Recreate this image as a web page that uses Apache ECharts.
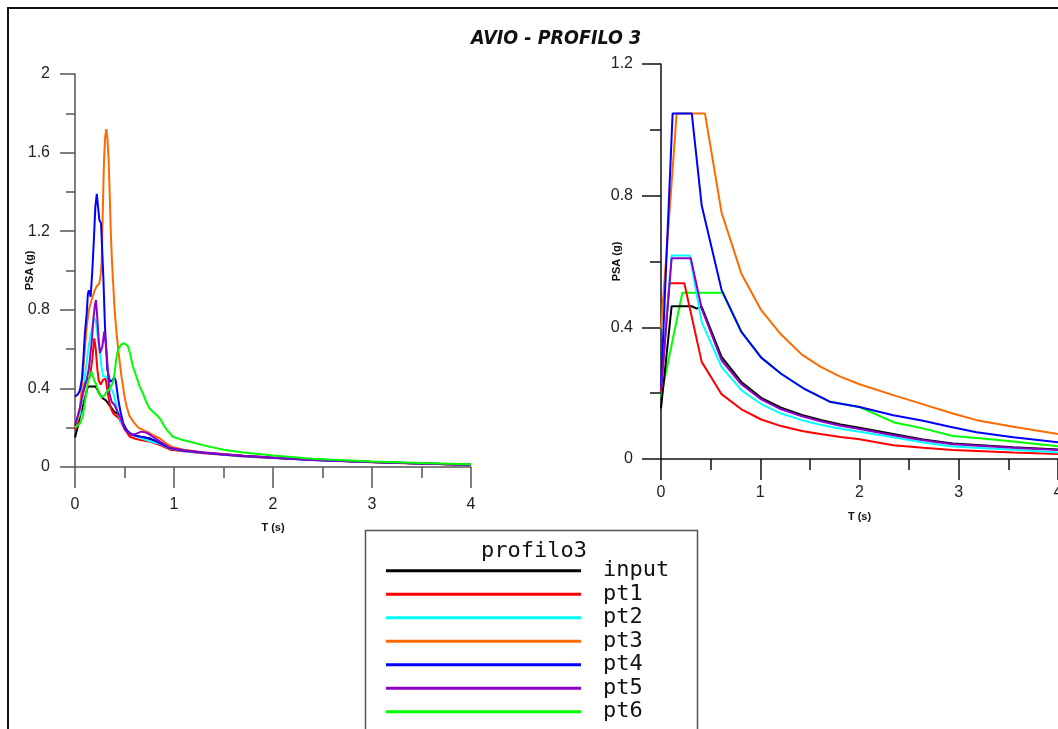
<!DOCTYPE html>
<html>
<head>
<meta charset="utf-8">
<title>AVIO - PROFILO 3</title>
<script src="https://cdn.jsdelivr.net/npm/echarts@6/dist/echarts.min.js"></script>
<style>
	html, body { margin: 0; padding: 0; background: #fff; }
	#container { width: 1058px; height: 729px; }
</style>
</head>
<body>
<div id="container"></div>
<script>
// nombres y colores de las curvas
var nombres = ['input', 'pt1', 'pt2', 'pt3', 'pt4', 'pt5', 'pt6'];
var colores = ['#000000', '#ff0000', '#00ffff', '#ff6a00', '#0000ff', '#8c00c8', '#00ff00'];

var ticksT = [0, 1, 2, 3, 4];
var ticksPsaIzq = [0, 0.4, 0.8, 1.2, 1.6, 2];
var ticksPsaDer = [0, 0.4, 0.8, 1.2];

// grafico izquierdo: espectros registrados [T, PSA]
var inputIzq = [[0, 0.15], [0.015, 0.16], [0.03, 0.21], [0.05, 0.26], [0.07, 0.29], [0.09, 0.33], [0.11, 0.37], [0.13, 0.41], [0.15, 0.4], [0.17, 0.41], [0.19, 0.42], [0.21, 0.41], [0.23, 0.4], [0.25, 0.37], [0.28, 0.35], [0.31, 0.34], [0.34, 0.32], [0.37, 0.3], [0.4, 0.28], [0.43, 0.27], [0.47, 0.24], [0.5, 0.2], [0.55, 0.17], [0.6, 0.16], [0.65, 0.155], [0.7, 0.15], [0.8, 0.135], [0.9, 0.11], [1.0, 0.09], [1.2, 0.077], [1.5, 0.064], [1.7, 0.056], [2.0, 0.047], [2.4, 0.037], [3.0, 0.025], [3.5, 0.018], [4.0, 0.012]];
var pt1Izq = [[0, 0.19], [0.02, 0.21], [0.05, 0.29], [0.08, 0.37], [0.1, 0.41], [0.118, 0.44], [0.135, 0.45], [0.152, 0.46], [0.175, 0.55], [0.195, 0.655], [0.21, 0.6], [0.225, 0.5], [0.24, 0.44], [0.26, 0.42], [0.285, 0.445], [0.31, 0.45], [0.33, 0.38], [0.35, 0.32], [0.37, 0.29], [0.39, 0.27], [0.44, 0.25], [0.49, 0.205], [0.55, 0.155], [0.6, 0.145], [0.66, 0.137], [0.76, 0.128], [0.86, 0.112], [0.96, 0.088], [1.1, 0.08], [1.3, 0.07], [1.5, 0.062], [1.7, 0.054], [2.0, 0.046], [2.4, 0.036], [3.0, 0.024], [3.5, 0.017], [4.0, 0.011]];
var pt2Izq = [[0, 0.21], [0.02, 0.22], [0.05, 0.27], [0.08, 0.38], [0.11, 0.5], [0.14, 0.62], [0.17, 0.7], [0.195, 0.76], [0.212, 0.74], [0.23, 0.66], [0.253, 0.58], [0.27, 0.5], [0.286, 0.46], [0.3, 0.47], [0.32, 0.46], [0.354, 0.41], [0.387, 0.375], [0.41, 0.33], [0.44, 0.265], [0.47, 0.225], [0.505, 0.197], [0.55, 0.175], [0.59, 0.163], [0.65, 0.15], [0.72, 0.137], [0.8, 0.125], [0.86, 0.118], [0.96, 0.094], [1.1, 0.082], [1.3, 0.072], [1.5, 0.063], [1.7, 0.055], [2.0, 0.047], [2.4, 0.036], [3.0, 0.025], [3.5, 0.018], [4.0, 0.012]];
var pt3Izq = [[0, 0.2], [0.02, 0.21], [0.05, 0.3], [0.08, 0.48], [0.1, 0.6], [0.118, 0.71], [0.14, 0.8], [0.168, 0.85], [0.2, 0.9], [0.22, 0.92], [0.246, 0.935], [0.26, 0.98], [0.27, 1.05], [0.283, 1.35], [0.293, 1.56], [0.305, 1.68], [0.316, 1.72], [0.328, 1.67], [0.34, 1.56], [0.35, 1.4], [0.36, 1.22], [0.373, 1.05], [0.387, 0.92], [0.4, 0.8], [0.42, 0.68], [0.445, 0.56], [0.47, 0.46], [0.5, 0.36], [0.52, 0.31], [0.55, 0.26], [0.59, 0.23], [0.64, 0.2], [0.69, 0.188], [0.74, 0.176], [0.8, 0.16], [0.86, 0.145], [0.92, 0.12], [0.99, 0.1], [1.1, 0.088], [1.3, 0.074], [1.5, 0.066], [1.7, 0.057], [2.0, 0.048], [2.4, 0.037], [3.0, 0.025], [3.5, 0.018], [4.0, 0.012]];
var pt4Izq = [[0, 0.358], [0.03, 0.37], [0.05, 0.392], [0.07, 0.45], [0.084, 0.545], [0.1, 0.68], [0.118, 0.78], [0.13, 0.88], [0.14, 0.9], [0.158, 0.867], [0.175, 1.0], [0.19, 1.15], [0.205, 1.32], [0.22, 1.39], [0.232, 1.38], [0.246, 1.257], [0.263, 1.24], [0.275, 1.1], [0.286, 0.969], [0.303, 0.714], [0.315, 0.6], [0.327, 0.494], [0.354, 0.434], [0.375, 0.44], [0.395, 0.455], [0.41, 0.443], [0.438, 0.341], [0.46, 0.28], [0.488, 0.222], [0.52, 0.19], [0.556, 0.171], [0.6, 0.162], [0.657, 0.154], [0.758, 0.146], [0.86, 0.12], [0.96, 0.095], [1.1, 0.083], [1.3, 0.073], [1.5, 0.064], [1.7, 0.056], [2.0, 0.047], [2.4, 0.036], [3.0, 0.025], [3.5, 0.018], [4.0, 0.012]];
var pt5Izq = [[0, 0.21], [0.02, 0.22], [0.05, 0.3], [0.08, 0.38], [0.1, 0.42], [0.118, 0.443], [0.14, 0.5], [0.168, 0.63], [0.185, 0.75], [0.2, 0.82], [0.212, 0.85], [0.225, 0.76], [0.24, 0.64], [0.253, 0.58], [0.276, 0.612], [0.296, 0.69], [0.308, 0.64], [0.32, 0.578], [0.335, 0.47], [0.347, 0.375], [0.37, 0.332], [0.4, 0.315], [0.43, 0.28], [0.455, 0.256], [0.48, 0.22], [0.505, 0.188], [0.57, 0.163], [0.62, 0.17], [0.67, 0.18], [0.72, 0.175], [0.76, 0.163], [0.86, 0.129], [0.96, 0.098], [1.1, 0.085], [1.3, 0.074], [1.5, 0.065], [1.7, 0.057], [2.0, 0.048], [2.4, 0.037], [3.0, 0.025], [3.5, 0.018], [4.0, 0.012]];
var pt6Izq = [[0, 0.2], [0.02, 0.2], [0.05, 0.222], [0.08, 0.26], [0.1, 0.33], [0.13, 0.43], [0.15, 0.46], [0.168, 0.485], [0.18, 0.48], [0.195, 0.44], [0.215, 0.42], [0.236, 0.38], [0.266, 0.355], [0.28, 0.35], [0.3, 0.365], [0.316, 0.38], [0.35, 0.4], [0.384, 0.43], [0.4, 0.48], [0.417, 0.55], [0.435, 0.6], [0.47, 0.625], [0.5, 0.63], [0.535, 0.615], [0.556, 0.578], [0.586, 0.51], [0.62, 0.46], [0.653, 0.41], [0.69, 0.37], [0.72, 0.33], [0.75, 0.3], [0.79, 0.28], [0.83, 0.262], [0.86, 0.245], [0.9, 0.21], [0.93, 0.188], [0.99, 0.154], [1.09, 0.137], [1.3, 0.11], [1.5, 0.088], [1.7, 0.074], [2.0, 0.058], [2.4, 0.042], [3.0, 0.028], [3.5, 0.02], [4.0, 0.014]];

// grafico derecho: espectros de diseño [T, PSA]
var inputDer = [[0, 0.154], [0.107, 0.464], [0.31, 0.464], [0.36, 0.457], [0.41, 0.462], [0.61, 0.31], [0.81, 0.234], [1.01, 0.186], [1.21, 0.156], [1.42, 0.134], [1.62, 0.118], [1.81, 0.105], [2.0, 0.095], [2.34, 0.076], [2.64, 0.059], [2.94, 0.047], [3.55, 0.036], [4.0, 0.029]];
var pt1Der = [[0, 0.204], [0.084, 0.534], [0.235, 0.534], [0.41, 0.295], [0.61, 0.197], [0.81, 0.151], [1.01, 0.12], [1.21, 0.1], [1.42, 0.085], [1.62, 0.075], [1.81, 0.067], [2.0, 0.06], [2.34, 0.042], [2.64, 0.034], [2.94, 0.027], [3.55, 0.02], [4.0, 0.015]];
var pt2Der = [[0, 0.22], [0.107, 0.618], [0.29, 0.618], [0.41, 0.416], [0.61, 0.28], [0.81, 0.209], [1.01, 0.167], [1.21, 0.138], [1.42, 0.118], [1.62, 0.103], [1.81, 0.092], [2.0, 0.083], [2.34, 0.066], [2.64, 0.05], [2.94, 0.038], [3.55, 0.028], [4.0, 0.02]];
var pt3Der = [[0, 0.396], [0.158, 1.05], [0.443, 1.05], [0.61, 0.749], [0.81, 0.563], [1.01, 0.452], [1.21, 0.378], [1.42, 0.317], [1.61, 0.28], [1.8, 0.251], [2.0, 0.227], [2.34, 0.194], [2.61, 0.169], [2.94, 0.138], [3.18, 0.118], [3.55, 0.098], [4.0, 0.076]];
var pt4Der = [[0, 0.22], [0.117, 1.05], [0.31, 1.05], [0.41, 0.77], [0.61, 0.514], [0.81, 0.386], [1.01, 0.308], [1.21, 0.259], [1.45, 0.212], [1.7, 0.174], [2.0, 0.158], [2.34, 0.133], [2.64, 0.116], [2.91, 0.098], [3.18, 0.081], [3.55, 0.066], [4.0, 0.051]];
var pt5Der = [[0, 0.21], [0.107, 0.61], [0.3, 0.61], [0.41, 0.457], [0.61, 0.3], [0.81, 0.227], [1.01, 0.181], [1.21, 0.151], [1.42, 0.13], [1.62, 0.114], [1.81, 0.101], [2.0, 0.091], [2.34, 0.072], [2.64, 0.057], [2.94, 0.045], [3.55, 0.034], [4.0, 0.027]];
var pt6Der = [[0, 0.189], [0.215, 0.505], [0.62, 0.505], [0.81, 0.386], [1.01, 0.308], [1.21, 0.259], [1.45, 0.212], [1.7, 0.174], [2.0, 0.158], [2.36, 0.11], [2.64, 0.093], [2.94, 0.07], [3.21, 0.063], [3.55, 0.053], [4.0, 0.039]];

var datosIzq = [inputIzq, pt1Izq, pt2Izq, pt3Izq, pt4Izq, pt5Izq, pt6Izq];
var datosDer = [inputDer, pt1Der, pt2Der, pt3Der, pt4Der, pt5Der, pt6Der];

function ejeT(gridIndex, color, margen, gap) {
	return {
		type: 'value',
		gridIndex: gridIndex,
		min: ticksT[0],
		max: ticksT[ticksT.length - 1],
		interval: ticksT[1] - ticksT[0],
		name: 'T (s)',
		nameLocation: 'middle',
		nameGap: gap,
		nameMoveOverlap: false,
		nameTextStyle: { fontFamily: 'Liberation Sans', fontWeight: 'bold', fontSize: 11, color: '#111' },
		axisLine: { show: true, onZero: false, lineStyle: { color: color, width: 1.5 } },
		axisTick: { show: true, inside: false, length: 21, lineStyle: { color: color, width: 1.5 } },
		minorTick: { show: true, splitNumber: 2, length: 11, lineStyle: { color: color, width: 1.5 } },
		axisLabel: { margin: margen, fontFamily: 'Liberation Sans', fontSize: 16, color: '#222', hideOverlap: false },
		splitLine: { show: false }
	};
}

function ejePsa(gridIndex, ticks, color, largo, margen, gap) {
	return {
		type: 'value',
		gridIndex: gridIndex,
		min: ticks[0],
		max: ticks[ticks.length - 1],
		interval: ticks[1] - ticks[0],
		name: 'PSA (g)',
		nameLocation: 'middle',
		nameGap: gap,
		nameMoveOverlap: false,
		nameTextStyle: { fontFamily: 'Liberation Sans', fontWeight: 'bold', fontSize: 11, color: '#111' },
		axisLine: { show: true, onZero: false, lineStyle: { color: color, width: 1.5 } },
		axisTick: { show: true, inside: false, length: largo, lineStyle: { color: color, width: 1.5 } },
		minorTick: { show: true, splitNumber: 2, length: Math.round(largo * 0.58), lineStyle: { color: color, width: 1.5 } },
		axisLabel: { margin: margen, fontFamily: 'Liberation Sans', fontSize: 16, color: '#222' },
		splitLine: { show: false }
	};
}

function obtenerGrafica() {
	var dom = document.getElementById('container');
	var myChart = echarts.init(dom, null, { renderer: 'canvas' });
	var seriesData = [];

	datosIzq.forEach((item, index) => {
		seriesData.push({
			name: nombres[index],
			type: 'line',
			xAxisIndex: 0,
			yAxisIndex: 0,
			showSymbol: false,
			symbol: 'none',
			color: colores[index],
			lineStyle: { width: 2, color: colores[index] },
			data: item
		});
	});

	datosDer.forEach((item, index) => {
		seriesData.push({
			name: nombres[index],
			type: 'line',
			xAxisIndex: 1,
			yAxisIndex: 1,
			showSymbol: false,
			symbol: 'none',
			z: index == 6 ? 1 : 2,
			color: colores[index],
			lineStyle: { width: 2, color: colores[index] },
			data: item
		});
	});

	var option = {
		animation: false,
		backgroundColor: '#ffffff',
		title: [
			{
				text: 'AVIO - PROFILO 3',
				left: 466,
				top: 24,
				textStyle: { fontFamily: "'DejaVu Sans Condensed', 'Liberation Sans', sans-serif", fontSize: 19.5, fontWeight: 'bold', fontStyle: 'italic', color: '#111' }
			},
			{
				text: 'profilo3',
				left: 476,
				top: 535,
				textStyle: { fontFamily: 'DejaVu Sans Mono', fontSize: 22, fontWeight: 'normal', color: '#111' }
			}
		],
		legend: {
			data: nombres,
			orient: 'vertical',
			left: 365,
			top: 531,
			padding: [28, 0, 0, 21],
			itemWidth: 195,
			itemHeight: 3,
			itemGap: 0,
			icon: 'rect',
			selectedMode: false,
			textStyle: { fontFamily: 'DejaVu Sans Mono', fontSize: 22, color: '#111', lineHeight: 23.5, padding: [0, 0, 0, 17] }
		},
		graphic: [
			{
				type: 'rect',
				silent: true,
				shape: { x: 8, y: 8, width: 1100, height: 800 },
				style: { fill: 'none', stroke: '#111', lineWidth: 2 }
			},
			{
				type: 'rect',
				silent: true,
				shape: { x: 365.5, y: 530.5, width: 332, height: 260 },
				style: { fill: 'none', stroke: '#555', lineWidth: 1.5 }
			}
		],
		grid: [
			{ left: 75, top: 74, width: 396, height: 393, outerBoundsMode: 'none' },
			{ left: 661, top: 64, width: 397, height: 395, outerBoundsMode: 'none' }
		],
		xAxis: [
			ejeT(0, '#555', 30, 55),
			ejeT(1, '#111', 26, 52)
		],
		yAxis: [
			ejePsa(0, ticksPsaIzq, '#555', 15, 25, 40),
			ejePsa(1, ticksPsaDer, '#111', 19, 28, 39)
		],
		series: seriesData
	};

	myChart.setOption(option, true);
}

obtenerGrafica();
</script>
</body>
</html>
